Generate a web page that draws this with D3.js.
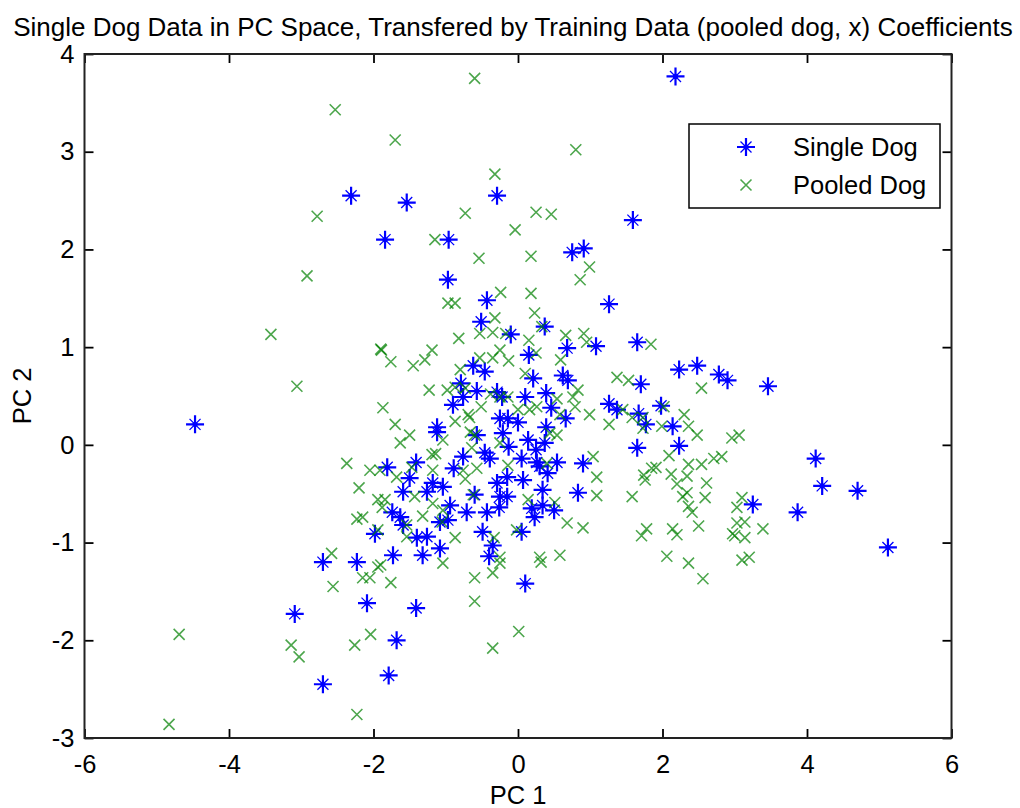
<!DOCTYPE html>
<html>
<head>
<meta charset="utf-8">
<script src="https://cdn.jsdelivr.net/npm/d3@7"></script>
<style>
  body { margin: 0; background: #fff; }
  svg text { font-family: "Liberation Sans", Arial, sans-serif; fill: #000; }
</style>
</head>
<body>
<svg id="chart" width="1020" height="808"></svg>
<script>
// PC1 / PC2 scores of the single dog (blue stars)
const singleDog = [
  [2.18,3.77],[-2.31,2.55],[-1.54,2.48],[-0.29,2.55],[-1.84,2.10],[-0.96,2.10],[-0.97,1.69],[0.75,1.97],[0.91,2.01],[-0.43,1.48],
  [1.59,2.30],[1.26,1.44],[-4.47,0.21],[-2.70,-1.20],[-3.09,-1.73],[-2.70,-2.45],[-2.23,-1.20],[-2.09,-1.62],[-1.41,-1.67],[-1.68,-2.00],
  [-1.79,-2.36],[0.10,-1.42],[1.08,1.01],[1.65,1.05],[2.23,0.77],[2.48,0.81],[2.78,0.72],[2.90,0.66],[3.46,0.60],[1.70,0.62],
  [1.26,0.42],[1.37,0.36],[1.67,0.32],[1.77,0.21],[1.98,0.40],[2.14,0.19],[1.65,-0.03],[2.23,-0.01],[4.12,-0.14],[4.21,-0.42],
  [4.70,-0.47],[3.25,-0.61],[3.87,-0.69],[5.12,-1.05],
  [-0.90,0.41],[-1.12,0.18],[-0.51,1.26],[-0.10,1.13],[0.37,1.21],[0.68,0.99],[0.15,0.92],[-0.62,0.81],[-0.46,0.75],[0.21,0.68],
  [0.62,0.71],[0.69,0.66],[-0.79,0.63],[-0.57,0.55],[-0.76,0.49],[-0.29,0.54],[-0.22,0.49],[0.10,0.49],[0.39,0.53],[0.46,0.38],
  [0.66,0.27],[-0.25,0.27],[-0.14,0.27],[0.00,0.23],[0.39,0.18],
  [-1.12,0.13],[-1.81,-0.23],[-1.41,-0.18],[-1.50,-0.34],[-0.89,-0.24],[-1.59,-0.48],[-1.26,-0.48],[-1.18,-0.39],[-1.04,-0.43],[-0.94,-0.62],
  [-1.74,-0.69],[-1.63,-0.74],[-1.59,-0.82],[-1.08,-0.79],[-0.97,-0.77],[-1.98,-0.91],[-1.40,-0.95],[-1.26,-0.94],[-1.08,-1.06],[-1.73,-1.13],
  [-1.32,-1.13],
  [-0.57,0.10],[-0.21,0.12],[0.37,0.02],[-0.76,-0.12],[-0.46,-0.08],[-0.39,-0.14],[-0.13,-0.02],[0.05,-0.14],[0.25,-0.05],[0.26,-0.18],
  [0.30,-0.22],[0.14,0.05],[0.54,-0.18],[0.90,-0.19],[0.41,-0.29],[-0.15,-0.33],[0.07,-0.36],[-0.29,-0.39],[-0.60,-0.51],[-0.25,-0.53],
  [-0.15,-0.53],[0.34,-0.46],[0.83,-0.49],[-0.71,-0.69],[-0.43,-0.69],[-0.26,-0.64],[0.19,-0.65],[0.23,-0.74],[0.34,-0.62],[0.50,-0.67],
  [-0.49,-0.89],[0.05,-0.89],[-0.35,-1.03],[-0.40,-1.14]
];

// PC1 / PC2 scores of the pooled training dogs (green crosses)
const pooledDog = [
  [-2.53,3.43],[-2.78,2.34],[-2.92,1.73],[-0.60,3.75],[-1.70,3.12],[0.80,3.02],[-0.32,2.77],[-0.73,2.37],[0.25,2.38],[0.46,2.36],
  [-0.04,2.20],[-1.15,2.10],[-0.54,1.91],[0.18,1.93],[0.99,1.82],[0.86,1.69],[-0.24,1.56],[0.18,1.55],[-3.42,1.13],[-3.06,0.60],
  [-4.69,-1.94],[-4.83,-2.86],[-3.14,-2.05],[-3.03,-2.17],[-2.56,-1.45],[-2.58,-1.11],[-1.94,-1.25],[-1.90,-1.23],[-2.15,-1.36],[-2.05,-1.36],
  [-1.76,-1.41],[-1.04,-1.21],[-0.60,-1.36],[-0.35,-1.31],[-0.25,-1.21],[-0.60,-1.60],[0.32,-1.20],[0.01,-1.91],[-0.35,-2.08],[-2.04,-1.94],
  [-2.26,-2.05],[-2.23,-2.76],
  [-0.97,1.45],[-0.87,1.45],[-0.82,1.09],[-1.90,0.98],[-1.89,0.97],[-1.76,0.85],[-1.19,0.97],[-1.29,0.87],[-1.45,0.81],[-0.80,0.77],
  [-1.23,0.56],[-0.98,0.56],[-0.87,0.59],[-1.87,0.38],[-1.70,0.21],[-0.87,0.24],
  [0.23,1.35],[-0.32,1.30],[0.33,1.21],[-0.53,1.14],[-0.35,1.15],[-0.17,1.14],[0.15,1.07],[0.66,1.12],[0.91,1.14],[0.95,1.05],
  [-0.25,0.97],[-0.53,0.89],[-0.35,0.89],[-0.13,0.86],[0.25,0.94],[0.59,0.87],[0.10,0.73],[-0.73,0.58],[-0.38,0.52],[-0.25,0.49],
  [-0.14,0.49],[0.54,0.47],[0.76,0.49],[0.83,0.56],[-0.69,0.31],[-0.67,0.28],[-0.51,0.39],[0.00,0.36],[0.16,0.36],[0.26,0.39],
  [0.79,0.39],[0.58,0.31],
  [1.84,1.03],[1.37,0.69],[1.53,0.66],[2.54,0.58],[0.99,0.31],[1.26,0.21],[1.45,0.36],[1.58,0.28],[1.73,0.28],[1.73,0.17],
  [2.02,0.39],[1.99,0.19],[2.30,0.31],[2.36,0.19],[2.48,0.10],[2.96,0.07],[3.06,0.10],[1.04,-0.12],[2.09,-0.11],[2.36,-0.20],
  [2.54,-0.20],[2.71,-0.14],[2.82,-0.12],[1.85,-0.24],[1.91,-0.23],[1.09,-0.33],[1.74,-0.31],[1.76,-0.36],[2.12,-0.30],[2.34,-0.32],
  [2.20,-0.40],[2.61,-0.39],[1.09,-0.52],[1.58,-0.53],[2.28,-0.53],[2.34,-0.49],[2.59,-0.54],[2.36,-0.63],[2.41,-0.69],[3.10,-0.54],
  [3.03,-0.64],[2.50,-0.83],[3.03,-0.80],[3.14,-0.79],[3.39,-0.86],[2.97,-0.91],[3.00,-0.93],[3.14,-0.95],[1.78,-0.86],[1.71,-0.93],
  [2.14,-0.86],[2.20,-0.92],[2.06,-1.14],[2.36,-1.21],[2.56,-1.37],[3.10,-1.18],[3.20,-1.15],
  [-1.50,0.10],[-1.63,0.02],[-1.04,0.05],[-2.37,-0.19],[-2.05,-0.26],[-1.91,-0.26],[-2.20,-0.44],[-1.68,-0.33],[-1.47,-0.23],[-1.43,-0.53],
  [-1.19,-0.10],[-1.14,-0.09],[-1.18,-0.26],[-1.94,-0.56],[-1.84,-0.56],[-1.88,-0.64],[-2.23,-0.76],[-2.15,-0.74],[-1.94,-0.87],[-1.54,-0.82],
  [-1.32,-0.73],[-1.04,-0.67],[-1.05,-0.79],[-0.87,-0.95],[-1.54,-0.94],[-1.18,-0.60],
  [-0.60,0.10],[-0.66,0.13],[-0.64,-0.03],[-0.25,0.02],[0.44,0.12],[0.54,0.10],[-0.76,-0.26],[-0.57,-0.24],[-0.14,-0.21],[0.40,-0.19],
  [-0.73,-0.35],[-0.62,-0.51],[0.14,-0.56],[0.51,-0.59],[0.68,-0.80],[0.90,-0.85],[-0.02,-0.87],[-0.33,-0.95],[0.30,-1.15],[0.58,-1.13],
  [-0.25,-1.15]
];

const xTicks = [-6, -4, -2, 0, 2, 4, 6];
const yTicks = [-3, -2, -1, 0, 1, 2, 3, 4];
const titleText = "Single Dog Data in PC Space, Transfered by Training Data (pooled dog, x) Coefficients";
const xLabel = "PC 1";
const yLabel = "PC 2";
const seriesNames = ["Single Dog", "Pooled Dog"];

const W = 1020, H = 808;
const plot = { left: 84.5, top: 54, right: 951.5, bottom: 738 };
const FONT = 25.5;
const TITLE_FONT = 26;

const svg = d3.select("#chart");
svg.append("rect").attr("width", W).attr("height", H).attr("fill", "#fff");

const x = d3.scaleLinear().domain([-6, 6]).range([plot.left, plot.right]);
const y = d3.scaleLinear().domain([-3, 4]).range([plot.bottom, plot.top]);

// MATLAB-style markers
const starPath = "M-9,0H9M0,-9V9";
const starDiag = "M-5.5,-5.5L5.5,5.5M-5.5,5.5L5.5,-5.5";
const crossPath = "M-5.5,-5.5L5.5,5.5M-5.5,5.5L5.5,-5.5";

function drawStar(g) {
  g.append("path").attr("d", starPath).attr("stroke", "#0000ff").attr("stroke-width", 2.2).attr("fill", "none");
  g.append("path").attr("d", starDiag).attr("stroke", "#0000ff").attr("stroke-width", 1.3).attr("fill", "none");
  g.append("circle").attr("r", 2.6).attr("fill", "#0000ff");
}
function drawCross(g) {
  g.append("path").attr("d", crossPath).attr("stroke", "#008000").attr("stroke-opacity", 0.7)
    .attr("stroke-width", 1.6).attr("fill", "none");
}

const marks = svg.append("g");
marks.selectAll("g.single").data(singleDog).join("g")
  .attr("class", "single")
  .attr("transform", d => `translate(${x(d[0])},${y(d[1])})`)
  .each(function () { drawStar(d3.select(this)); });

marks.selectAll("g.pooled").data(pooledDog).join("g")
  .attr("class", "pooled")
  .attr("transform", d => `translate(${x(d[0])},${y(d[1])})`)
  .each(function () { drawCross(d3.select(this)); });

// Axes: inward ticks on all four sides, labels on bottom/left
const fmt = d => String(d);
function styleAxis(g) {
  g.select(".domain").remove();
  g.selectAll(".tick line").attr("stroke", "#000").attr("stroke-width", 1.8);
  g.selectAll(".tick text").attr("font-size", FONT).attr("fill", "#000")
    .attr("font-family", "'Liberation Sans', Arial, sans-serif");
}
svg.append("g").attr("transform", `translate(0,${plot.bottom})`)
  .call(d3.axisBottom(x).tickValues(xTicks).tickFormat(fmt).tickSize(-9).tickSizeOuter(0).tickPadding(17))
  .call(styleAxis);
svg.append("g").attr("transform", `translate(0,${plot.top})`)
  .call(d3.axisTop(x).tickValues(xTicks).tickFormat("").tickSize(-9).tickSizeOuter(0))
  .call(styleAxis);
svg.append("g").attr("transform", `translate(${plot.left},0)`)
  .call(d3.axisLeft(y).tickValues(yTicks).tickFormat(fmt).tickSize(-9).tickSizeOuter(0).tickPadding(10))
  .call(styleAxis);
svg.append("g").attr("transform", `translate(${plot.right},0)`)
  .call(d3.axisRight(y).tickValues(yTicks).tickFormat("").tickSize(-9).tickSizeOuter(0))
  .call(styleAxis);

// Frame
svg.append("rect")
  .attr("x", plot.left).attr("y", plot.top)
  .attr("width", plot.right - plot.left).attr("height", plot.bottom - plot.top)
  .attr("fill", "none").attr("stroke", "#222").attr("stroke-width", 2);

// Title and axis labels
svg.append("text").attr("x", (plot.left + plot.right) / 2 - 5).attr("y", 36)
  .attr("text-anchor", "middle").attr("font-size", TITLE_FONT).text(titleText);
svg.append("text").attr("x", (plot.left + plot.right) / 2).attr("y", 804)
  .attr("text-anchor", "middle").attr("font-size", FONT).text(xLabel);
svg.append("text").attr("transform", `translate(31,${(plot.top + plot.bottom) / 2}) rotate(-90)`)
  .attr("text-anchor", "middle").attr("font-size", FONT).text(yLabel);

// Legend
const lg = svg.append("g").attr("transform", "translate(689,124)");
lg.append("rect").attr("width", 251).attr("height", 84)
  .attr("fill", "#fff").attr("stroke", "#000").attr("stroke-width", 1.5);
const starItem = lg.append("g").attr("transform", "translate(57,23)");
drawStar(starItem);
const crossItem = lg.append("g").attr("transform", "translate(57,61)");
drawCross(crossItem);
lg.append("text").attr("x", 104).attr("y", 23).attr("dy", "0.35em").attr("font-size", FONT).text(seriesNames[0]);
lg.append("text").attr("x", 104).attr("y", 61).attr("dy", "0.35em").attr("font-size", FONT).text(seriesNames[1]);
</script>
</body>
</html>
